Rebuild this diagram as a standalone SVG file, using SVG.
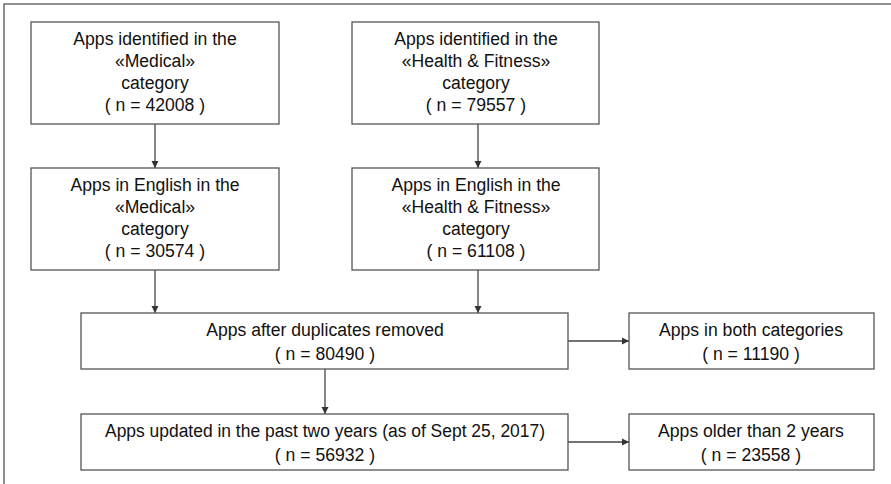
<svg xmlns="http://www.w3.org/2000/svg" width="891" height="484" viewBox="0 0 891 484">
<defs>
<marker id="ah" markerWidth="8" markerHeight="8" refX="7" refY="4" orient="auto" markerUnits="userSpaceOnUse">
<path d="M0,0.5 L7,4 L0,7.5 Z" fill="#333"/>
</marker>
</defs>
<style>
.box{fill:#fff;stroke:#555;stroke-width:1.3}
.t{font-family:"Liberation Sans",Arial,sans-serif;font-size:17.6px;fill:#111;text-anchor:middle}
.c{stroke:#444;stroke-width:1.3;fill:none;marker-end:url(#ah)}
</style>
<rect x="0" y="0" width="891" height="484" fill="#fff"/>
<rect x="4" y="4" width="900" height="500" fill="none" stroke="#555" stroke-width="1.3"/>
<g id="connectors">
<line class="c" x1="155" y1="124" x2="155" y2="168"/>
<line class="c" x1="478" y1="124" x2="478" y2="168"/>
<line class="c" x1="155" y1="270" x2="155" y2="313"/>
<line class="c" x1="478" y1="270" x2="478" y2="313"/>
<line class="c" x1="325" y1="369" x2="325" y2="414"/>
<line class="c" x1="568" y1="341" x2="629" y2="341"/>
<line class="c" x1="568" y1="442" x2="629" y2="442"/>
</g>
<g id="n1">
<rect class="box" x="31" y="22" width="248" height="102"/>
<text class="t" x="155" y="45">Apps identified in the</text>
<text class="t" x="155" y="67">«Medical»</text>
<text class="t" x="155" y="89">category</text>
<text class="t" x="155" y="111">( n = 42008 )</text>
</g>
<g id="n2">
<rect class="box" x="352" y="22" width="247" height="102"/>
<text class="t" x="476" y="45">Apps identified in the</text>
<text class="t" x="476" y="67">«Health &amp; Fitness»</text>
<text class="t" x="476" y="89">category</text>
<text class="t" x="476" y="111">( n = 79557 )</text>
</g>
<g id="n3">
<rect class="box" x="31" y="168" width="248" height="102"/>
<text class="t" x="155" y="191">Apps in English in the</text>
<text class="t" x="155" y="213">«Medical»</text>
<text class="t" x="155" y="235">category</text>
<text class="t" x="155" y="257">( n = 30574 )</text>
</g>
<g id="n4">
<rect class="box" x="352" y="168" width="247" height="102"/>
<text class="t" x="476" y="191">Apps in English in the</text>
<text class="t" x="476" y="213">«Health &amp; Fitness»</text>
<text class="t" x="476" y="235">category</text>
<text class="t" x="476" y="257">( n = 61108 )</text>
</g>
<g id="n5">
<rect class="box" x="81" y="313" width="487" height="56"/>
<text class="t" x="325" y="336">Apps after duplicates removed</text>
<text class="t" x="325" y="360">( n = 80490 )</text>
</g>
<g id="n6">
<rect class="box" x="629" y="313" width="245" height="56"/>
<text class="t" x="751" y="336">Apps in both categories</text>
<text class="t" x="751" y="360">( n = 11190 )</text>
</g>
<g id="n7">
<rect class="box" x="81" y="414" width="487" height="56"/>
<text class="t" x="325" y="437" textLength="440" lengthAdjust="spacingAndGlyphs">Apps updated in the past two years (as of Sept 25, 2017)</text>
<text class="t" x="325" y="461">( n = 56932 )</text>
</g>
<g id="n8">
<rect class="box" x="629" y="414" width="245" height="56"/>
<text class="t" x="751" y="437">Apps older than 2 years</text>
<text class="t" x="751" y="461">( n = 23558 )</text>
</g>
</svg>
